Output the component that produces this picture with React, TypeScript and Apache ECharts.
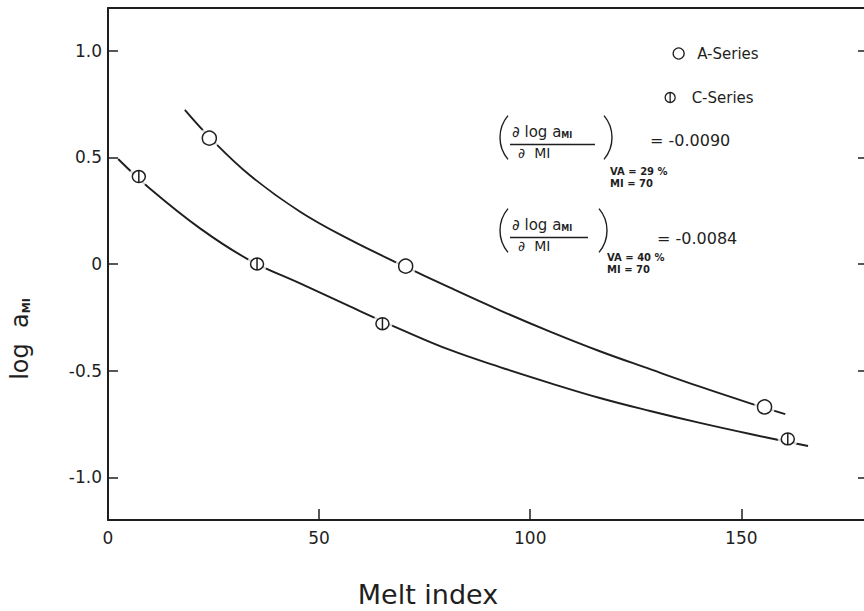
import { useEffect, useRef } from 'react';
import * as echarts from 'echarts';

// Axis ticks
const X_TICKS = [0, 50, 100, 150];
const Y_TICKS = [-1.0, -0.5, 0, 0.5, 1.0];

// Measured points: melt index vs. log a_MI
const A_MI = [24, 70.5, 155.5];
const A_LOG = [0.59, -0.01, -0.67];
const C_MI = [7.3, 35.3, 65, 161];
const C_LOG = [0.41, 0.0, -0.28, -0.82];

// Hand-drawn fitted curves through each series
const A_FIT_MI = [18.2, 24.2, 33.6, 45.5, 57.3, 69.2, 81, 92.8, 104.7, 116.5, 128.4, 140.2, 152.1, 160.4];
const A_FIT_LOG = [0.722, 0.591, 0.416, 0.245, 0.114, -0.001, -0.111, -0.217, -0.317, -0.409, -0.493, -0.575, -0.653, -0.704];
const C_FIT_MI = [2.4, 9.9, 21.8, 33.6, 45.5, 57.3, 69.2, 81, 92.8, 104.7, 116.5, 128.4, 140.2, 152.1, 165.8];
const C_FIT_LOG = [0.492, 0.354, 0.167, 0.017, -0.091, -0.199, -0.305, -0.403, -0.483, -0.558, -0.628, -0.689, -0.745, -0.797, -0.853];

// Slopes at MI = 70
const SLOPE_A = '-0.0090';
const SLOPE_C = '-0.0084';
const VA_A = '29';
const VA_C = '40';

const INK = '#1f1f1f';
const FONT = 'DejaVu Sans';
const PHI = 'path://M12,2 A10,10 0 1,1 12,22 A10,10 0 1,1 12,2 Z M12,1 L12,23';

const zip = (xs: number[], ys: number[]) => xs.map((x, i) => [x, ys[i]]);

function slopeBlock(left: number, right: number, cy: number, lineEnd: number, eqX: number, eqY: number, value: string, va: string, condX: number, condY: number) {
  const r = 34;
  const half = 0.7;
  const txt = (x: number, y: number, style: any) => ({ type: 'text', x, y, silent: true, style: { fill: INK, fontFamily: FONT, verticalAlign: 'middle', align: 'left', ...style } });
  return [
    { type: 'arc', silent: true, shape: { cx: left + r, cy, r, startAngle: Math.PI - half, endAngle: Math.PI + half, clockwise: true }, style: { stroke: INK, lineWidth: 1.4, fill: 'none' } },
    { type: 'arc', silent: true, shape: { cx: right - r, cy, r, startAngle: -half, endAngle: half, clockwise: true }, style: { stroke: INK, lineWidth: 1.4, fill: 'none' } },
    txt(left + 12, cy - 6, { text: '∂ log a{s|MI}', fontSize: 15, rich: { s: { fontSize: 8, fontWeight: 'bold', fontFamily: FONT, fill: INK, verticalAlign: 'bottom' } } }),
    { type: 'line', silent: true, shape: { x1: left + 10, y1: cy + 7, x2: lineEnd, y2: cy + 7 }, style: { stroke: INK, lineWidth: 1.3 } },
    txt(left + 18, cy + 15, { text: '∂  MI', fontSize: 14 }),
    txt(eqX, eqY, { text: '= ' + value, fontSize: 16 }),
    txt(condX, condY, { text: 'VA = ' + va + ' %', fontSize: 10, fontWeight: 'bold' }),
    txt(condX, condY + 12.5, { text: 'MI = 70', fontSize: 10, fontWeight: 'bold' }),
  ];
}

export default function App() {
  const ref = useRef<HTMLDivElement>(null);

  useEffect(() => {
    if (!ref.current) return;
    const chart = echarts.init(ref.current, undefined, { renderer: 'svg' });

    const axisLine = { show: true, onZero: false, lineStyle: { color: INK, width: 2 } };

    chart.setOption({
      animation: false,
      backgroundColor: '#ffffff',
      grid: { left: 108, top: 8, width: 760, height: 512, containLabel: false, outerBoundsMode: 'none' },
      xAxis: [
        {
          type: 'value', min: 0, max: 180, interval: 50, position: 'bottom',
          axisLine,
          axisTick: { show: true, inside: true, length: 11, customValues: X_TICKS, lineStyle: { color: INK, width: 1.5 } },
          axisLabel: {
            customValues: X_TICKS, margin: 9, fontSize: 17, color: INK, fontFamily: FONT,
            formatter: (v: number) => (X_TICKS.includes(v) ? String(v) : ''),
          },
          splitLine: { show: false },
        },
        {
          type: 'value', min: 0, max: 180, position: 'top',
          axisLine, axisTick: { show: false }, axisLabel: { show: false }, splitLine: { show: false },
        },
      ],
      yAxis: [
        {
          type: 'value', min: -1.2, max: 1.2, splitNumber: 5, position: 'left',
          axisLine,
          axisTick: { show: true, inside: true, length: 10, customValues: Y_TICKS, lineStyle: { color: INK, width: 1.5 } },
          axisLabel: {
            customValues: Y_TICKS, margin: 6, fontSize: 17, color: INK, fontFamily: FONT,
            formatter: (v: number) => (Y_TICKS.includes(v) ? (v === 0 ? '0' : v.toFixed(1)) : ''),
          },
          splitLine: { show: false },
        },
        {
          type: 'value', min: -1.2, max: 1.2, splitNumber: 5, position: 'right',
          axisLine: { show: false, onZero: false },
          axisTick: { show: true, inside: true, length: 10, customValues: Y_TICKS, lineStyle: { color: INK, width: 1.5 } },
          axisLabel: { show: false },
          splitLine: { show: false },
        },
      ],
      legend: [
        {
          data: [{ name: 'A-Series', icon: 'circle' }], left: 672.5, top: 46, padding: 0,
          itemWidth: 11, itemHeight: 11,
          itemStyle: { color: '#fff', borderColor: INK, borderWidth: 1.3 },
          textStyle: { fontSize: 15, color: INK, fontFamily: FONT, padding: [0, 0, 0, 8] },
        },
        {
          data: [{ name: 'C-Series', icon: PHI }], left: 664.5, top: 90, padding: 0,
          itemWidth: 11, itemHeight: 11,
          itemStyle: { color: '#fff', borderColor: INK, borderWidth: 1.3 },
          textStyle: { fontSize: 15, color: INK, fontFamily: FONT, padding: [0, 0, 0, 11] },
        },
      ],
      series: [
        {
          name: 'A fit', type: 'line', data: zip(A_FIT_MI, A_FIT_LOG), smooth: 0.4,
          showSymbol: false, symbol: 'none', silent: true, z: 2,
          lineStyle: { color: INK, width: 1.9 },
        },
        {
          name: 'C fit', type: 'line', data: zip(C_FIT_MI, C_FIT_LOG), smooth: 0.4,
          showSymbol: false, symbol: 'none', silent: true, z: 2,
          lineStyle: { color: INK, width: 1.9 },
        },
        {
          name: 'A gap', type: 'scatter', data: zip(A_MI, A_LOG), symbol: 'circle', symbolSize: 21,
          itemStyle: { color: '#fff' }, silent: true, z: 3,
        },
        {
          name: 'C gap', type: 'scatter', data: zip(C_MI, C_LOG), symbol: 'circle', symbolSize: 20,
          itemStyle: { color: '#fff' }, silent: true, z: 3,
        },
        {
          name: 'A-Series', type: 'scatter', data: zip(A_MI, A_LOG), symbol: 'circle', symbolSize: 14,
          itemStyle: { color: '#fff', borderColor: INK, borderWidth: 1.5, opacity: 1 }, z: 4,
        },
        {
          name: 'C-Series', type: 'scatter', data: zip(C_MI, C_LOG), symbol: PHI, symbolSize: 13,
          itemStyle: { color: '#fff', borderColor: INK, borderWidth: 1.5, opacity: 1 }, z: 4,
        },
      ],
      graphic: [
        {
          type: 'text', x: 428, y: 594, silent: true,
          style: { text: 'Melt index', fontSize: 27, fontFamily: FONT, fill: INK, align: 'center', verticalAlign: 'middle' },
        },
        {
          type: 'text', x: 20, y: 339, rotation: Math.PI / 2, silent: true,
          style: {
            text: 'log  a{s|MI}', fontSize: 24, fontFamily: FONT, fill: INK, align: 'center', verticalAlign: 'middle',
            rich: { s: { fontSize: 11, fontWeight: 'bold', fontFamily: FONT, fill: INK, verticalAlign: 'bottom' } },
          },
        },
        ...slopeBlock(500, 612, 137.5, 595, 650, 140, SLOPE_A, VA_A, 610, 171),
        ...slopeBlock(500, 607, 230.5, 588, 657, 238, SLOPE_C, VA_C, 607, 257),
      ],
    });

    return () => chart.dispose();
  }, []);

  return (
    <div
      ref={ref}
      style={{ position: 'fixed', left: 0, top: 0, width: 864, height: 611, background: '#fff' }}
    />
  );
}
